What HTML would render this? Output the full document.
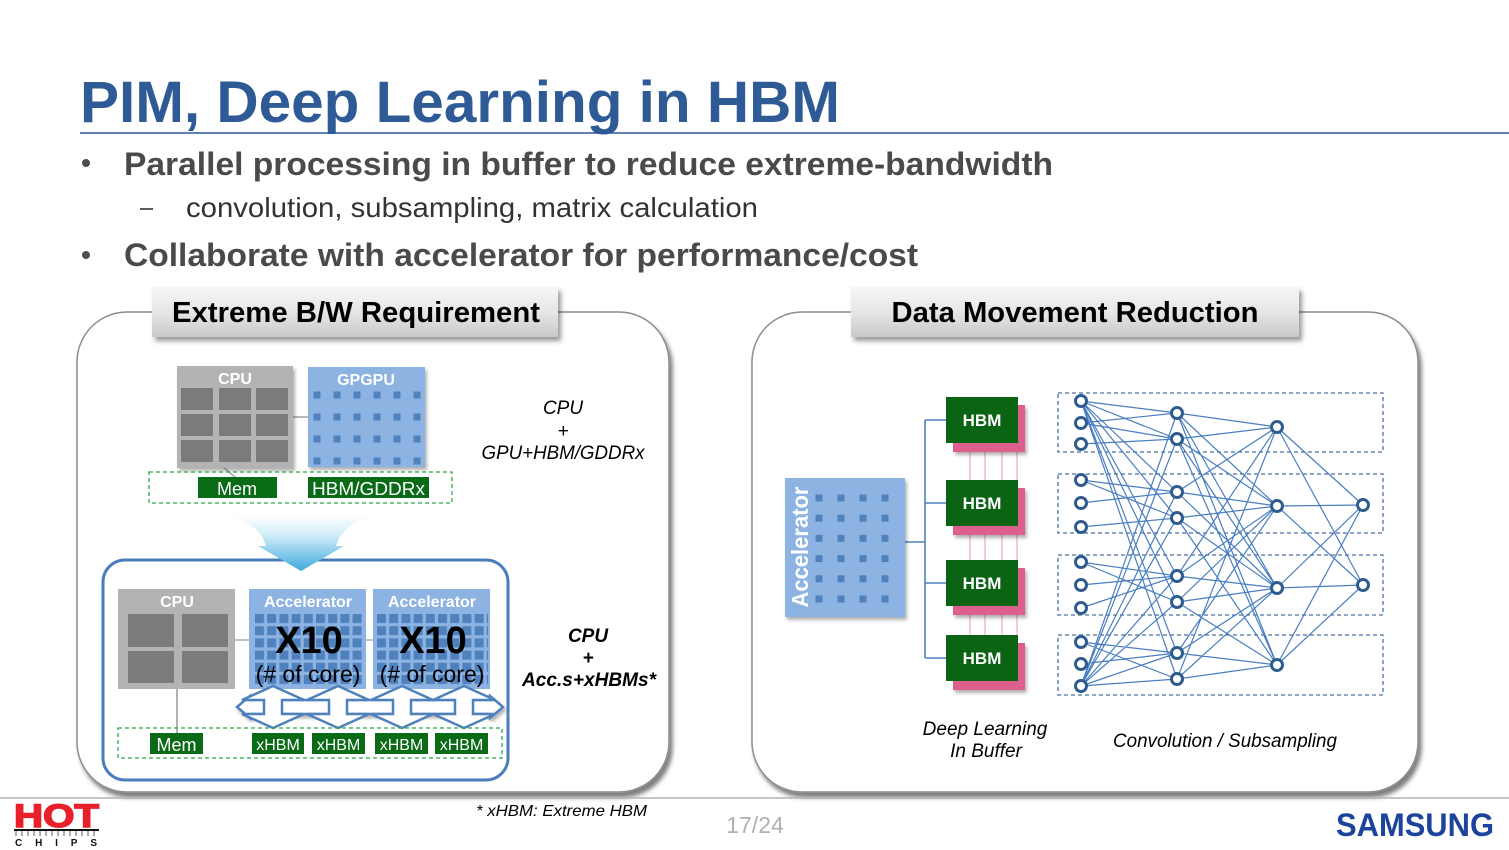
<!DOCTYPE html>
<html><head><meta charset="utf-8"><style>
html,body{margin:0;padding:0;background:#fff;}
svg{display:block;}
</style></head><body>
<svg width="1509" height="850" viewBox="0 0 1509 850" xmlns="http://www.w3.org/2000/svg" font-family="Liberation Sans, Arial, sans-serif">
<defs>
<filter id="psh" x="-5%" y="-5%" width="115%" height="115%"><feDropShadow dx="3" dy="5" stdDeviation="2" flood-color="#000" flood-opacity="0.5"/></filter>
<filter id="sh" x="-10%" y="-10%" width="130%" height="140%"><feDropShadow dx="3" dy="4" stdDeviation="2.5" flood-color="#000" flood-opacity="0.4"/></filter>
<filter id="ssh" x="-10%" y="-10%" width="130%" height="130%"><feDropShadow dx="2" dy="3" stdDeviation="1.5" flood-color="#000" flood-opacity="0.3"/></filter>
<linearGradient id="hdr" x1="0" y1="0" x2="0" y2="1"><stop offset="0" stop-color="#f6f6f6"/><stop offset="0.5" stop-color="#e6e6e6"/><stop offset="1" stop-color="#c9c9c9"/></linearGradient>
<linearGradient id="fun" x1="0" y1="0" x2="0" y2="1"><stop offset="0" stop-color="#ffffff"/><stop offset="0.35" stop-color="#d4eef9"/><stop offset="1" stop-color="#3fa9dc"/></linearGradient>
<pattern id="gpd" x="313.5" y="391.5" width="20" height="22" patternUnits="userSpaceOnUse"><rect width="7" height="7" fill="#4f81bd"/></pattern>
<pattern id="acd" x="255" y="614" width="12.2" height="12.2" patternUnits="userSpaceOnUse"><rect width="9" height="9" fill="#4f81bd"/></pattern>
<pattern id="rad" x="815.5" y="494.5" width="22" height="20.2" patternUnits="userSpaceOnUse"><rect width="7" height="7" fill="#4f81bd"/></pattern>
</defs>

<!-- Title -->
<text x="80" y="122" font-size="58" font-weight="bold" fill="#2e5b96" textLength="760" lengthAdjust="spacingAndGlyphs">PIM, Deep Learning in HBM</text>
<line x1="80" y1="133" x2="1509" y2="133" stroke="#2d56a0" stroke-width="1.6"/>

<!-- Bullets -->
<circle cx="86" cy="163" r="4" fill="#4d4d4d"/>
<text x="124" y="175" font-size="32" font-weight="bold" fill="#4a4a4a" textLength="929" lengthAdjust="spacingAndGlyphs">Parallel processing in buffer to reduce extreme-bandwidth</text>
<line x1="140" y1="209" x2="153" y2="209" stroke="#333" stroke-width="1.6"/>
<text x="186" y="217" font-size="28" fill="#333" textLength="572" lengthAdjust="spacingAndGlyphs">convolution, subsampling, matrix calculation</text>
<circle cx="86" cy="255" r="4" fill="#4d4d4d"/>
<text x="124" y="266" font-size="32" font-weight="bold" fill="#4a4a4a" textLength="794" lengthAdjust="spacingAndGlyphs">Collaborate with accelerator for performance/cost</text>

<!-- Panels -->
<rect x="77" y="312" width="592" height="480" rx="50" fill="#fff" stroke="#8c8c8c" stroke-width="1.5" filter="url(#psh)"/>
<rect x="752" y="312" width="666" height="480" rx="50" fill="#fff" stroke="#8c8c8c" stroke-width="1.5" filter="url(#psh)"/>

<!-- Headers -->
<rect x="152" y="287" width="406" height="50" fill="url(#hdr)" filter="url(#sh)"/>
<text x="356" y="322" font-size="29" font-weight="bold" fill="#000" text-anchor="middle" textLength="368" lengthAdjust="spacingAndGlyphs">Extreme B/W Requirement</text>
<rect x="851" y="287" width="448" height="50" fill="url(#hdr)" filter="url(#sh)"/>
<text x="1075" y="322" font-size="29" font-weight="bold" fill="#000" text-anchor="middle" textLength="367" lengthAdjust="spacingAndGlyphs">Data Movement Reduction</text>

<!-- ===== Left panel top ===== -->
<line x1="293" y1="417" x2="308" y2="417" stroke="#888" stroke-width="1.2"/>
<line x1="222" y1="466" x2="236" y2="478" stroke="#999" stroke-width="1.2"/>
<rect x="177" y="366" width="116" height="102" fill="#b3b3b3" filter="url(#ssh)"/>
<text x="235" y="384" font-size="16" font-weight="bold" fill="#fff" text-anchor="middle">CPU</text>
<g fill="#7b7b7b">
<rect x="181" y="388" width="32" height="22"/><rect x="219" y="388" width="32" height="22"/><rect x="256" y="388" width="32" height="22"/>
<rect x="181" y="414" width="32" height="22"/><rect x="219" y="414" width="32" height="22"/><rect x="256" y="414" width="32" height="22"/>
<rect x="181" y="440" width="32" height="22"/><rect x="219" y="440" width="32" height="22"/><rect x="256" y="440" width="32" height="22"/>
</g>
<rect x="308" y="367" width="117" height="100" fill="#8db3e2" filter="url(#ssh)"/>
<rect x="313" y="391" width="110" height="75" fill="url(#gpd)"/>
<text x="366" y="385" font-size="16" font-weight="bold" fill="#fff" text-anchor="middle">GPGPU</text>

<rect x="149" y="472" width="303" height="31" fill="none" stroke="#2aa84a" stroke-width="1.3" stroke-dasharray="4,3"/>
<rect x="198" y="477" width="79" height="21" fill="#0a6b16"/>
<text x="237" y="495" font-size="18" fill="#fff" text-anchor="middle">Mem</text>
<rect x="308" y="477" width="121" height="21" fill="#0a6b16"/>
<text x="368.5" y="495" font-size="18" fill="#fff" text-anchor="middle" textLength="113" lengthAdjust="spacingAndGlyphs">HBM/GDDRx</text>

<text x="563" y="414" font-size="19" font-style="italic" fill="#000" text-anchor="middle">CPU</text>
<text x="563" y="437" font-size="19" font-style="italic" fill="#000" text-anchor="middle">+</text>
<text x="563" y="459" font-size="19" font-style="italic" fill="#000" text-anchor="middle" textLength="163" lengthAdjust="spacingAndGlyphs">GPU+HBM/GDDRx</text>

<!-- ===== Left panel bottom ===== -->
<rect x="103" y="560" width="405" height="220" rx="22" fill="#fff" stroke="#4a7ebb" stroke-width="3"/>
<path d="M227,515 L375,515 Q342,524 336,546 L344,546 L301,571 L258,546 L266,546 Q260,524 227,515 Z" fill="url(#fun)"/>

<line x1="235" y1="640" x2="250" y2="640" stroke="#999" stroke-width="1.2"/>
<line x1="366" y1="640" x2="373" y2="640" stroke="#999" stroke-width="1.2"/>
<line x1="177" y1="689" x2="177" y2="733" stroke="#999" stroke-width="1.5"/>
<rect x="118" y="589" width="117" height="100" fill="#b3b3b3"/>
<text x="177" y="607" font-size="16" font-weight="bold" fill="#fff" text-anchor="middle">CPU</text>
<g fill="#7b7b7b">
<rect x="128" y="614" width="46" height="33"/><rect x="182" y="614" width="46" height="33"/>
<rect x="128" y="651" width="46" height="32"/><rect x="182" y="651" width="46" height="32"/>
</g>

<rect x="249" y="589" width="117" height="100" fill="#8db3e2"/>
<rect x="254" y="613" width="110" height="74" fill="url(#acd)"/>
<text x="308" y="607" font-size="16" font-weight="bold" fill="#fff" text-anchor="middle">Accelerator</text>
<text x="309" y="653" font-size="38" font-weight="bold" fill="#000" text-anchor="middle">X10</text>
<text x="308" y="682" font-size="23" fill="#000" text-anchor="middle">(# of core)</text>

<rect x="373" y="589" width="117" height="100" fill="#8db3e2"/>
<rect x="376" y="613" width="112" height="74" fill="url(#acd)"/>
<text x="432" y="607" font-size="16" font-weight="bold" fill="#fff" text-anchor="middle">Accelerator</text>
<text x="433" y="653" font-size="38" font-weight="bold" fill="#000" text-anchor="middle">X10</text>
<text x="432" y="682" font-size="23" fill="#000" text-anchor="middle">(# of core)</text>

<!-- double arrows -->
<g fill="#fff" stroke="#4f81bd" stroke-width="2.5" stroke-linejoin="miter" filter="url(#ssh)">
<path d="M250,700 L490,700 L490,696 L503,707 L490,718 L490,714 L250,714 L250,718 L237,707 L250,696 Z"/>
</g>
<g fill="#fff" stroke="#4f81bd" stroke-width="2.5">
<path d="M273,686 L304,700 L282,700 L282,714 L304,714 L273,728 L242,714 L264,714 L264,700 L242,700 Z"/>
<path d="M338,686 L369,700 L347,700 L347,714 L369,714 L338,728 L307,714 L329,714 L329,700 L307,700 Z"/>
<path d="M402,686 L433,700 L411,700 L411,714 L433,714 L402,728 L371,714 L393,714 L393,700 L371,700 Z"/>
<path d="M464,686 L495,700 L473,700 L473,714 L495,714 L464,728 L433,714 L455,714 L455,700 L433,700 Z"/>
</g>

<rect x="118" y="728" width="384" height="30" fill="none" stroke="#2aa84a" stroke-width="1.3" stroke-dasharray="4,3"/>
<rect x="150" y="733" width="53" height="21" fill="#0a6b16"/>
<text x="176.5" y="751" font-size="18" fill="#fff" text-anchor="middle">Mem</text>
<g fill="#0a6b16">
<rect x="252" y="733" width="52" height="21"/><rect x="312" y="733" width="53" height="21"/><rect x="375" y="733" width="53" height="21"/><rect x="435" y="733" width="53" height="21"/>
</g>
<g font-size="16" fill="#fff" text-anchor="middle">
<text x="278" y="750">xHBM</text><text x="338.5" y="750">xHBM</text><text x="401.5" y="750">xHBM</text><text x="461.5" y="750">xHBM</text>
</g>

<text x="588" y="642" font-size="19" font-weight="bold" font-style="italic" fill="#000" text-anchor="middle">CPU</text>
<text x="588" y="664" font-size="19" font-weight="bold" font-style="italic" fill="#000" text-anchor="middle">+</text>
<text x="589" y="686" font-size="19" font-weight="bold" font-style="italic" fill="#000" text-anchor="middle" textLength="134" lengthAdjust="spacingAndGlyphs">Acc.s+xHBMs*</text>

<!-- ===== Right panel ===== -->
<g stroke="#4f81bd" stroke-width="1.6" fill="none">
<path d="M905,542 L925,542 M925,420 L925,658 M925,420 L946,420 M925,503 L946,503 M925,583 L946,583 M925,658 L946,658"/>
</g>
<rect x="785" y="478" width="120" height="139" fill="#8db3e2" filter="url(#ssh)"/>
<rect x="815" y="494" width="78" height="112" fill="url(#rad)"/>
<text transform="translate(808,547) rotate(-90)" font-size="23" font-weight="bold" fill="#fff" text-anchor="middle" textLength="121" lengthAdjust="spacingAndGlyphs">Accelerator</text>

<g stroke="#f2a6c6" stroke-width="1.2">
<path d="M970,452 L970,480 M985,452 L985,480 M1002,452 L1002,480 M1017,452 L1017,480"/>
<path d="M970,535 L970,560 M985,535 L985,560 M1002,535 L1002,560 M1017,535 L1017,560"/>
<path d="M970,615 L970,635 M985,615 L985,635 M1002,615 L1002,635 M1017,615 L1017,635"/>
</g>
<g fill="#de5f8e" filter="url(#ssh)">
<rect x="953" y="405" width="72" height="47"/><rect x="953" y="488" width="72" height="47"/><rect x="953" y="568" width="72" height="47"/><rect x="953" y="643" width="72" height="47"/>
</g>
<g fill="#0a6414">
<rect x="946" y="397" width="72" height="46"/><rect x="946" y="480" width="72" height="46"/><rect x="946" y="560" width="72" height="46"/><rect x="946" y="635" width="72" height="46"/>
</g>
<g font-size="17" font-weight="bold" fill="#fff" text-anchor="middle">
<text x="982" y="426">HBM</text><text x="982" y="509">HBM</text><text x="982" y="589">HBM</text><text x="982" y="664">HBM</text>
</g>

<!-- NN dashed boxes -->
<g fill="none" stroke="#4a6fa0" stroke-width="1.3" stroke-dasharray="4,3">
<rect x="1058" y="393" width="325" height="59"/>
<rect x="1058" y="474" width="325" height="59"/>
<rect x="1058" y="555" width="325" height="60"/>
<rect x="1058" y="635" width="325" height="60"/>
</g>
<!-- NN edges -->
<path fill="none" stroke="#4a7ec0" stroke-width="1.2" d="
M1081 401L1177 413M1081 401L1177 439M1081 401L1177 492M1081 401L1177 518M1081 401L1177 576M1081 401L1177 602M1081 401L1177 653M1081 401L1177 679
M1081 686L1177 413M1081 686L1177 439M1081 686L1177 492M1081 686L1177 518M1081 686L1177 576M1081 686L1177 602M1081 686L1177 653M1081 686L1177 679
M1081 423L1177 413M1081 423L1177 439M1081 444L1177 439
M1081 480L1177 492M1081 480L1177 518M1081 503L1177 492M1081 527L1177 518
M1081 562L1177 576M1081 562L1177 602M1081 585L1177 576M1081 608L1177 576
M1081 642L1177 653M1081 642L1177 679M1081 664L1177 653
M1177 413L1277 427M1177 413L1277 506M1177 413L1277 588M1177 413L1277 665
M1177 439L1277 427M1177 439L1277 506M1177 439L1277 588M1177 439L1277 665
M1177 492L1277 427M1177 492L1277 506M1177 492L1277 588
M1177 518L1277 506M1177 518L1277 588M1177 518L1277 665
M1177 576L1277 427M1177 576L1277 506M1177 576L1277 588
M1177 602L1277 506M1177 602L1277 588M1177 602L1277 665
M1177 653L1277 506M1177 653L1277 588M1177 653L1277 665
M1177 679L1277 427M1177 679L1277 588M1177 679L1277 665
M1277 427L1363 505M1277 427L1363 585M1277 506L1363 505M1277 506L1363 585
M1277 588L1363 505M1277 588L1363 585M1277 665L1363 505M1277 665L1363 585"/>
<!-- NN nodes -->
<g fill="#fff" stroke="#2f5c8f" stroke-width="3">
<circle cx="1081" cy="401" r="5.5"/><circle cx="1081" cy="423" r="5.5"/><circle cx="1081" cy="444" r="5.5"/>
<circle cx="1081" cy="480" r="5.5"/><circle cx="1081" cy="503" r="5.5"/><circle cx="1081" cy="527" r="5.5"/>
<circle cx="1081" cy="562" r="5.5"/><circle cx="1081" cy="585" r="5.5"/><circle cx="1081" cy="608" r="5.5"/>
<circle cx="1081" cy="642" r="5.5"/><circle cx="1081" cy="664" r="5.5"/><circle cx="1081" cy="686" r="5.5"/>
<circle cx="1177" cy="413" r="5.5"/><circle cx="1177" cy="439" r="5.5"/><circle cx="1177" cy="492" r="5.5"/><circle cx="1177" cy="518" r="5.5"/>
<circle cx="1177" cy="576" r="5.5"/><circle cx="1177" cy="602" r="5.5"/><circle cx="1177" cy="653" r="5.5"/><circle cx="1177" cy="679" r="5.5"/>
<circle cx="1277" cy="427" r="5.5"/><circle cx="1277" cy="506" r="5.5"/><circle cx="1277" cy="588" r="5.5"/><circle cx="1277" cy="665" r="5.5"/>
<circle cx="1363" cy="505" r="5.5"/><circle cx="1363" cy="585" r="5.5"/>
</g>

<g font-size="19" font-style="italic" fill="#000" text-anchor="middle">
<text x="985" y="735">Deep Learning</text>
<text x="986" y="757">In Buffer</text>
<text x="1225" y="747" textLength="224" lengthAdjust="spacingAndGlyphs">Convolution / Subsampling</text>
</g>

<!-- Footer -->
<line x1="0" y1="798" x2="1509" y2="798" stroke="#b3b3b3" stroke-width="1.5"/>
<text x="476" y="816" font-size="16" font-style="italic" fill="#000" textLength="171" lengthAdjust="spacingAndGlyphs">* xHBM: Extreme HBM</text>
<text x="755" y="833" font-size="23" fill="#b0b0b0" text-anchor="middle">17/24</text>

<!-- HOT CHIPS logo -->
<text x="14" y="827" font-size="32" font-weight="bold" fill="#e8202a" stroke="#e8202a" stroke-width="1.5" textLength="85" lengthAdjust="spacingAndGlyphs">HOT</text>
<line x1="14" y1="830" x2="99" y2="830" stroke="#111" stroke-width="2"/>
<path stroke="#333" stroke-width="0.8" d="M16 831V836M22 831V836M28 831V836M34 831V836M40 831V836M46 831V836M52 831V836M58 831V836M64 831V836M70 831V836M76 831V836M82 831V836M88 831V836M94 831V836"/>
<text x="15" y="846" font-size="10" font-weight="bold" fill="#111" textLength="82" lengthAdjust="spacing">CHIPS</text>

<!-- Samsung -->
<text x="1336" y="836" font-size="32" font-weight="bold" fill="#1c449c" textLength="158" lengthAdjust="spacingAndGlyphs">SAMSUNG</text>
</svg>
</body></html>
